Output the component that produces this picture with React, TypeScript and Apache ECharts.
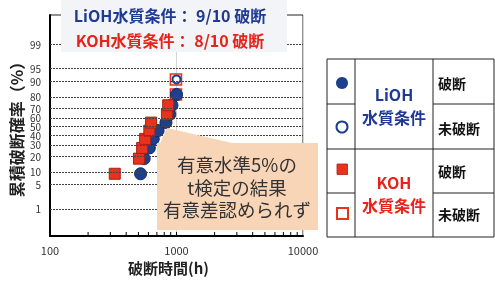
import React, { useEffect, useRef } from "react";
import * as echarts from "echarts";

// ---- data ----
const probTicks = [1, 5, 10, 20, 30, 40, 50, 60, 70, 80, 90, 95, 99];
const xMinorTicks = [200, 300, 400, 500, 600, 700, 800, 900, 1000, 2000, 3000, 4000, 5000, 6000, 7000, 8000, 9000];

const liohBrokenHours = [520, 555, 610, 655, 715, 825, 885, 920, 1000];
const liohBrokenProb = [9.1, 18.2, 27.3, 36.4, 45.5, 54.5, 63.6, 72.7, 81.8];
const liohUnbrokenHours = [1000];
const liohUnbrokenProb = [90.9];

const kohBrokenHours = [325, 505, 535, 565, 610, 630, 840, 860];
const kohBrokenProb = [9.1, 18.2, 27.3, 36.4, 45.5, 54.5, 63.6, 72.7];
const kohUnbrokenHours = [990, 990];
const kohUnbrokenProb = [81.8, 90.9];

const titleLines = ["LiOH水質条件： 9/10 破断", "KOH水質条件： 8/10 破断"];
const calloutLines = ["有意水準5%の", "t検定の結果", "有意差認められず"];

// inverse normal CDF (probability-paper scale)
function probit(p: number): number {
  const a = [-3.969683028665376e1, 2.209460984245205e2, -2.759285104469687e2, 1.38357751867269e2, -3.066479806614716e1, 2.506628277459239];
  const b = [-5.447609879822406e1, 1.615858368580409e2, -1.556989798598866e2, 6.680131188771972e1, -1.328068155288572e1];
  const c = [-7.784894002430293e-3, -3.223964580411365e-1, -2.400758277161838, -2.549732539343734, 4.374664141464968, 2.938163982698783];
  const d = [7.784695709041462e-3, 3.224671290700398e-1, 2.445134137142996, 3.754408661907416];
  const plow = 0.02425;
  if (p < plow) {
    const q = Math.sqrt(-2 * Math.log(p));
    return (((((c[0] * q + c[1]) * q + c[2]) * q + c[3]) * q + c[4]) * q + c[5]) / ((((d[0] * q + d[1]) * q + d[2]) * q + d[3]) * q + 1);
  }
  if (p <= 1 - plow) {
    const q = p - 0.5;
    const r = q * q;
    return ((((((a[0] * r + a[1]) * r + a[2]) * r + a[3]) * r + a[4]) * r + a[5]) * q) / (((((b[0] * r + b[1]) * r + b[2]) * r + b[3]) * r + b[4]) * r + 1);
  }
  const q = Math.sqrt(-2 * Math.log(1 - p));
  return -(((((c[0] * q + c[1]) * q + c[2]) * q + c[3]) * q + c[4]) * q + c[5]) / ((((d[0] * q + d[1]) * q + d[2]) * q + d[3]) * q + 1);
}

const Y_MIN = -3.096;
const Y_MAX = 3.158;

const FONT = "'Noto Sans CJK JP', 'Noto Sans', sans-serif";
const BLUE = "#1c3f8e";
const RED = "#e8321e";
const TITLE_BLUE = "#1f3a94";
const TITLE_RED = "#e8231a";

const pts = (hours: number[], prob: number[]) => hours.map((h, i) => [h, probit(prob[i] / 100)]);

export default function App() {
  const ref = useRef<HTMLDivElement>(null);
  useEffect(() => {
    if (!ref.current) return;
    const chart = echarts.init(ref.current, undefined, { renderer: "svg" });
    const option: any = {
      animation: false,
      textStyle: { fontFamily: FONT },
      grid: { left: 48, right: 192, top: 15, bottom: 51, show: true, borderColor: "#222", borderWidth: 1, backgroundColor: "#fff" },
      xAxis: {
        type: "log",
        logBase: 10,
        min: 100,
        max: 10000,
        name: "破断時間(h)",
        nameLocation: "middle",
        nameGap: 23,
        nameTextStyle: { fontSize: 15, fontWeight: "bold", color: "#222", fontFamily: FONT, padding: [0, 16, 0, 0] },
        axisLine: { show: true, onZero: false, lineStyle: { color: "#000", width: 2 } },
        axisTick: { show: false },
        axisLabel: { fontSize: 11, color: "#333", margin: 8, fontFamily: FONT, showMaxLabel: true, showMinLabel: true, formatter: (v: number) => String(Math.round(v)) },
        splitLine: { show: true, lineStyle: { color: "#d4d4d4", width: 1 } },
      },
      yAxis: {
        type: "value",
        min: Y_MIN,
        max: Y_MAX,
        name: "累積破断確率（%）",
        nameLocation: "middle",
        nameRotate: 90,
        nameGap: 26,
        nameTextStyle: { fontSize: 16, fontWeight: "bold", color: "#222", fontFamily: FONT },
        axisLine: { show: true, onZero: false, lineStyle: { color: "#000", width: 2 } },
        axisTick: { show: false },
        axisLabel: { show: false },
        splitLine: { show: false },
      },
      series: [
        {
          type: "custom",
          z: 1,
          silent: true,
          data: xMinorTicks.map((v) => [v, Y_MIN]),
          renderItem: (params: any, api: any) => {
            const p = api.coord([api.value(0), api.value(1)]);
            return { type: "line", shape: { x1: p[0], y1: p[1], x2: p[0], y2: p[1] - 4 }, style: { stroke: "#000", lineWidth: 1 } };
          },
          markLine: {
            silent: true,
            symbol: ["none", "none"],
            lineStyle: { type: [2, 1], color: "#444", width: 1.2 },
            label: { show: true, position: "start", formatter: "{b}", fontSize: 10, lineHeight: 8, color: "#333", distance: 9, fontFamily: FONT },
            data: probTicks.map((p) => ({ yAxis: probit(p / 100), name: String(p) })),
          },
        },
        {
          type: "scatter",
          z: 3,
          symbol: "rect",
          symbolSize: 11,
          itemStyle: { color: "#fff", borderColor: RED, borderWidth: 1.6, opacity: 1 },
          data: pts(kohUnbrokenHours, kohUnbrokenProb),
        },
        {
          type: "scatter",
          z: 3,
          symbol: "circle",
          symbolSize: 12,
          itemStyle: { color: BLUE, borderColor: "#102a6b", borderWidth: 1, opacity: 1 },
          data: pts(liohBrokenHours, liohBrokenProb),
        },
        {
          type: "scatter",
          z: 3,
          symbol: "circle",
          symbolSize: 8,
          itemStyle: { color: "#fff", borderColor: BLUE, borderWidth: 2, opacity: 1 },
          data: pts(liohUnbrokenHours, liohUnbrokenProb),
        },
        {
          type: "scatter",
          z: 3,
          symbol: "rect",
          symbolSize: 11,
          itemStyle: { color: RED, borderColor: "#a82010", borderWidth: 1, opacity: 1 },
          data: pts(kohBrokenHours, kohBrokenProb),
        },
      ],
      graphic: [
        // title box
        { type: "rect", z: 100, shape: { x: 61, y: 0, width: 226, height: 52 }, style: { fill: "#f2f4f7" } },
        { type: "text", z: 101, x: 170, y: 15, style: { text: titleLines[0], fill: TITLE_BLUE, font: `bold 16px ${FONT}`, textAlign: "center", textVerticalAlign: "middle" } },
        { type: "text", z: 101, x: 170, y: 40, style: { text: titleLines[1], fill: TITLE_RED, font: `bold 16px ${FONT}`, textAlign: "center", textVerticalAlign: "middle" } },
        // callout
        { type: "polygon", z: 100, shape: { points: [[167, 128], [157, 150], [157, 143], [232, 143]] }, style: { fill: "#f9d5b8" } },
        { type: "rect", z: 100, shape: { x: 157, y: 143, width: 161, height: 87 }, style: { fill: "#f9d5b8" } },
        ...calloutLines.map((t, i) => ({
          type: "text", z: 101, x: 237, y: 164 + i * 22.5,
          style: { text: t, fill: "#333", font: `18.5px ${FONT}`, textAlign: "center", textVerticalAlign: "middle" },
        })),
        // legend table
        { type: "rect", z: 100, shape: { x: 327, y: 59, width: 167, height: 178 }, style: { fill: "#fff", stroke: "#222", lineWidth: 1 } },
        { type: "line", z: 101, shape: { x1: 355, y1: 59, x2: 355, y2: 237 }, style: { stroke: "#222", lineWidth: 1 } },
        { type: "line", z: 101, shape: { x1: 433, y1: 59, x2: 433, y2: 237 }, style: { stroke: "#222", lineWidth: 1 } },
        { type: "line", z: 101, shape: { x1: 327, y1: 149, x2: 494, y2: 149 }, style: { stroke: "#222", lineWidth: 1 } },
        { type: "line", z: 101, shape: { x1: 327, y1: 104, x2: 355, y2: 104 }, style: { stroke: "#222", lineWidth: 1 } },
        { type: "line", z: 101, shape: { x1: 327, y1: 193, x2: 355, y2: 193 }, style: { stroke: "#222", lineWidth: 1 } },
        { type: "line", z: 101, shape: { x1: 433, y1: 104, x2: 494, y2: 104 }, style: { stroke: "#222", lineWidth: 1 } },
        { type: "line", z: 101, shape: { x1: 433, y1: 193, x2: 494, y2: 193 }, style: { stroke: "#222", lineWidth: 1 } },
        { type: "circle", z: 101, shape: { cx: 342, cy: 83, r: 6 }, style: { fill: BLUE } },
        { type: "circle", z: 101, shape: { cx: 342, cy: 127, r: 5.5 }, style: { fill: "#fff", stroke: BLUE, lineWidth: 2 } },
        { type: "rect", z: 101, shape: { x: 337, y: 164, width: 10.5, height: 10.5 }, style: { fill: RED, stroke: "#b02010", lineWidth: 0.8 } },
        { type: "rect", z: 101, shape: { x: 337, y: 208, width: 11, height: 11 }, style: { fill: "#fff", stroke: RED, lineWidth: 2 } },
        { type: "text", z: 101, x: 394, y: 94, style: { text: "LiOH", fill: TITLE_BLUE, font: `bold 16px ${FONT}`, textAlign: "center", textVerticalAlign: "middle" } },
        { type: "text", z: 101, x: 394, y: 117, style: { text: "水質条件", fill: TITLE_BLUE, font: `bold 16px ${FONT}`, textAlign: "center", textVerticalAlign: "middle" } },
        { type: "text", z: 101, x: 394, y: 182, style: { text: "KOH", fill: TITLE_RED, font: `bold 16px ${FONT}`, textAlign: "center", textVerticalAlign: "middle" } },
        { type: "text", z: 101, x: 394, y: 205, style: { text: "水質条件", fill: TITLE_RED, font: `bold 16px ${FONT}`, textAlign: "center", textVerticalAlign: "middle" } },
        { type: "text", z: 101, x: 438, y: 83, style: { text: "破断", fill: "#111", font: `bold 14px ${FONT}`, textAlign: "left", textVerticalAlign: "middle" } },
        { type: "text", z: 101, x: 438, y: 128, style: { text: "未破断", fill: "#111", font: `bold 14px ${FONT}`, textAlign: "left", textVerticalAlign: "middle" } },
        { type: "text", z: 101, x: 438, y: 171, style: { text: "破断", fill: "#111", font: `bold 14px ${FONT}`, textAlign: "left", textVerticalAlign: "middle" } },
        { type: "text", z: 101, x: 438, y: 214, style: { text: "未破断", fill: "#111", font: `bold 14px ${FONT}`, textAlign: "left", textVerticalAlign: "middle" } },
      ],
    };
    chart.setOption(option);
    return () => chart.dispose();
  }, []);
  return <div ref={ref} style={{ position: "fixed", left: 0, top: 0, width: 495, height: 287 }} />;
}
